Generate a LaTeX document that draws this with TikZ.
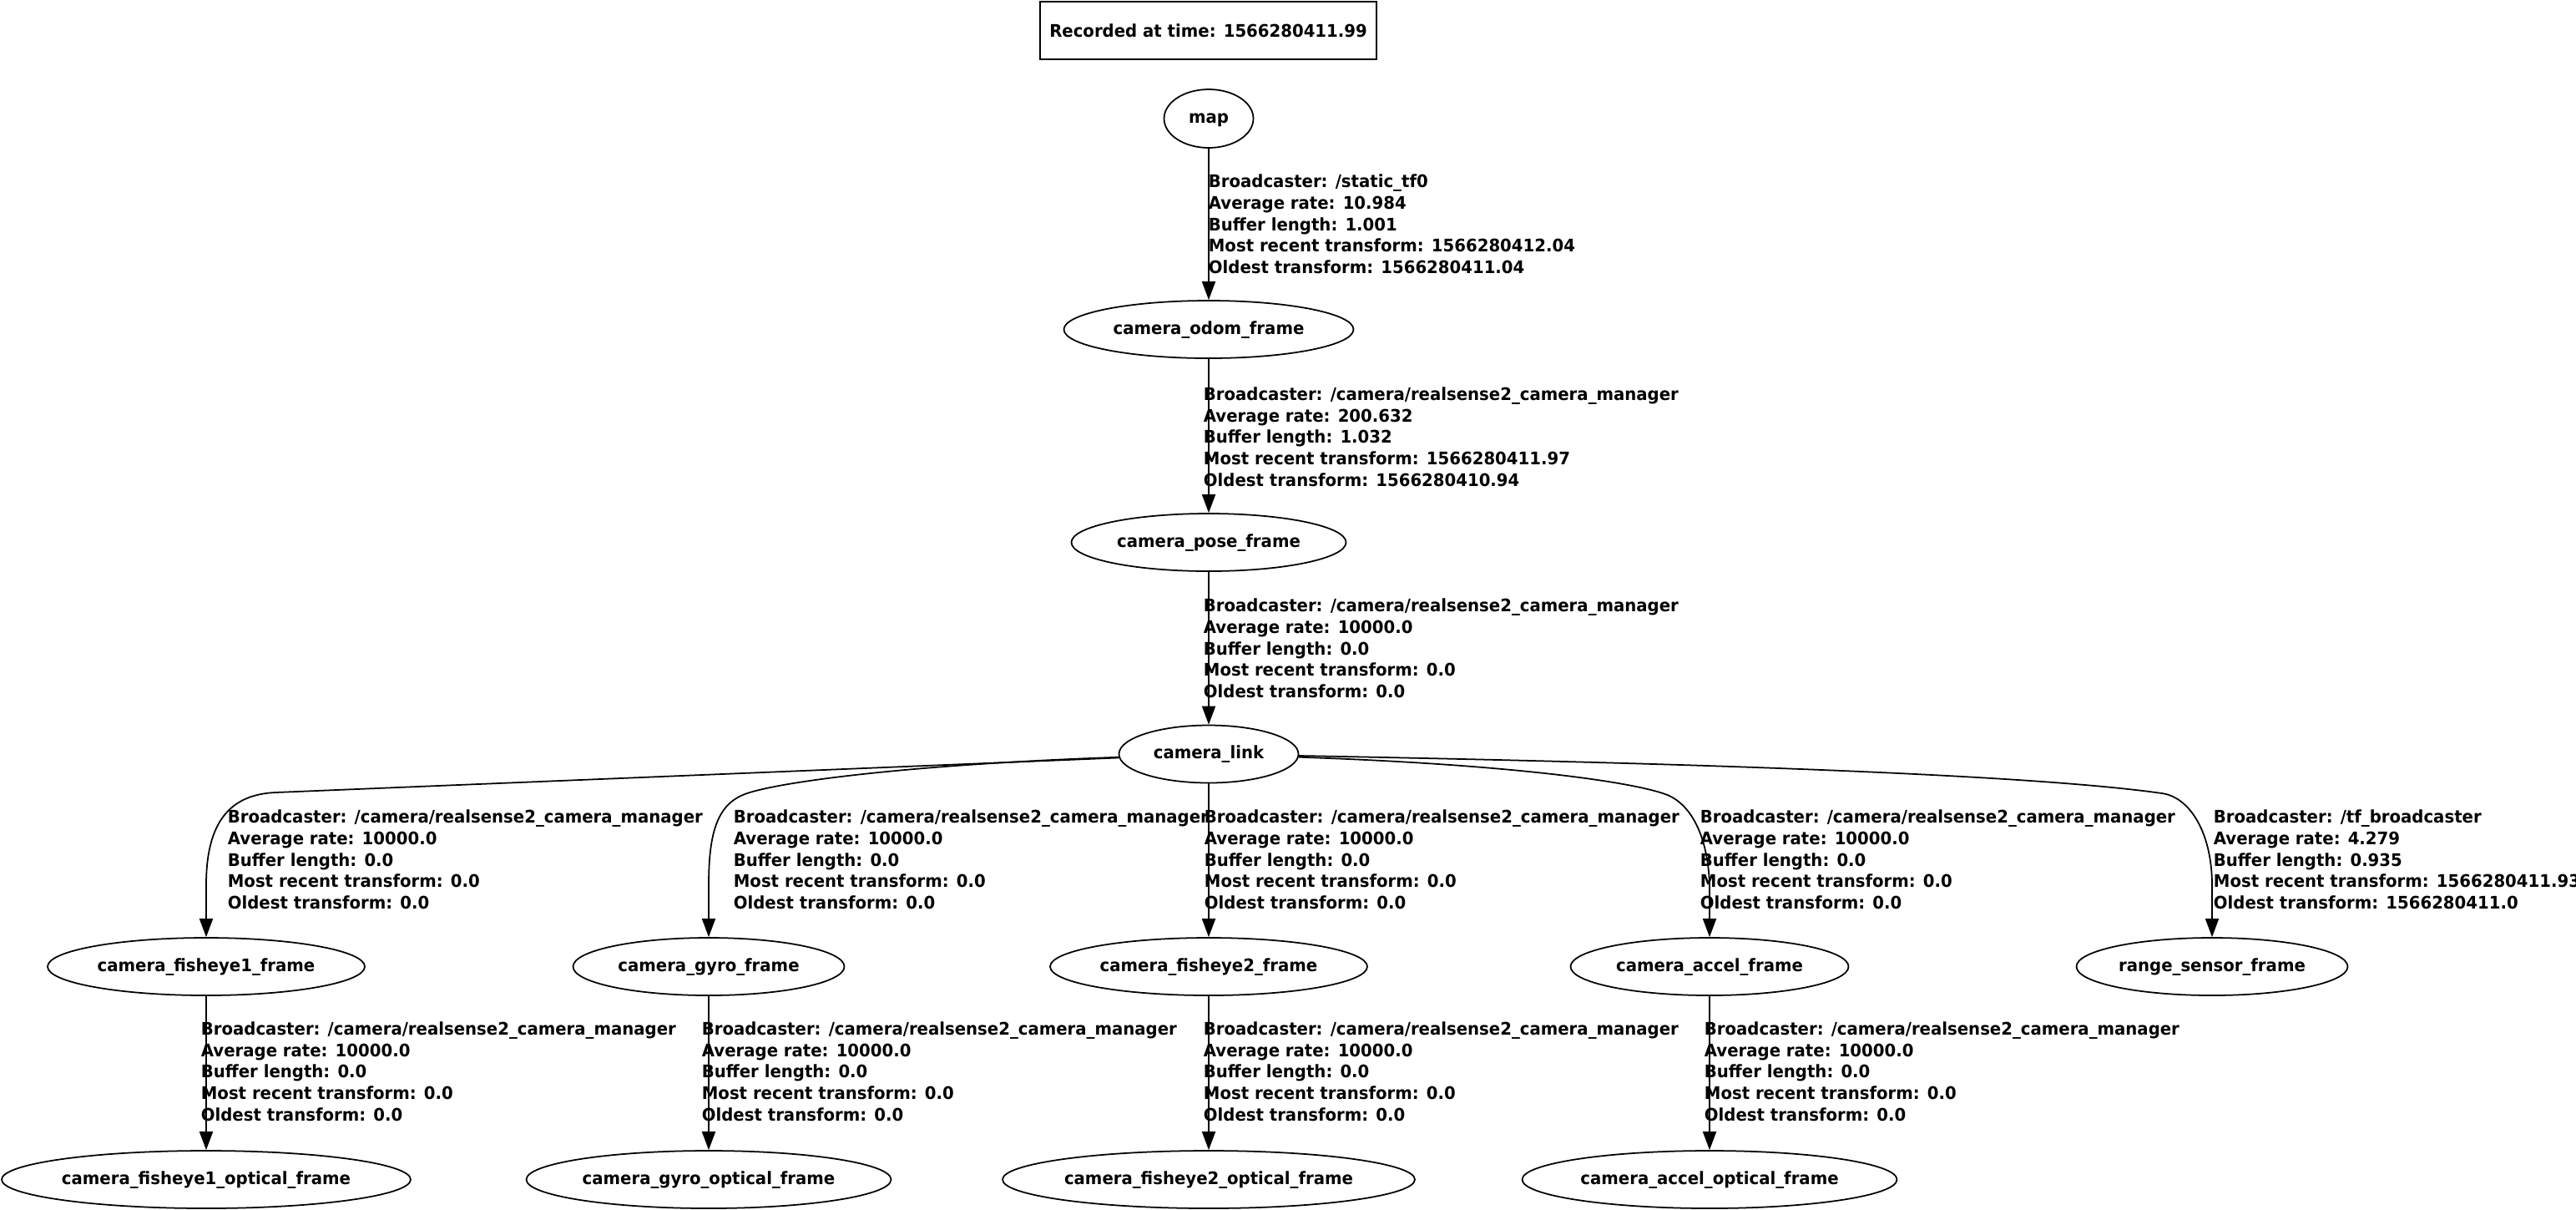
\documentclass[tikz,border=0pt]{standalone}
\usepackage{fontspec}
\setmainfont{DejaVu Sans}[FakeStretch=0.95]
\usetikzlibrary{arrows.meta,shapes.geometric}

\begin{document}
\begin{tikzpicture}[>={Triangle[length=2.2mm,width=1.6mm]}, line width=0.5pt,
  fr/.style={draw, ellipse, inner xsep=-2cm, inner ysep=0pt, minimum height=0.69cm,
    minimum width=#1, text height=4.5pt, text depth=1.2pt,
    font=\bfseries\fontsize{5.9}{7.3}\selectfont},
  lbl/.style={anchor=west, align=left, inner sep=0pt, font=\bfseries\fontsize{5.9}{7.3}\selectfont},
  stamp/.style={draw, inner sep=0pt, minimum width=4.03cm, minimum height=0.69cm,
    font=\bfseries\fontsize{5.9}{7.3}\selectfont}]
\useasboundingbox (0,0) rectangle (30.86,-14.48);
\node[stamp] (rec) at (14.475,-0.365) {Recorded at time: 1566280411.99};
% frames
\node[fr=1.07cm, minimum height=0.70cm] (map) at (14.48,-1.42) {map};
\node[fr=3.47cm] (odom) at (14.48,-3.945) {camera\_odom\_frame};
\node[fr=3.29cm] (pose) at (14.48,-6.495) {camera\_pose\_frame};
\node[fr=2.15cm] (link) at (14.48,-9.03) {camera\_link};
\node[fr=3.80cm] (fe1) at (2.47,-11.575) {camera\_fisheye1\_frame};
\node[fr=3.25cm] (gyro) at (8.49,-11.575) {camera\_gyro\_frame};
\node[fr=3.80cm] (fe2) at (14.48,-11.575) {camera\_fisheye2\_frame};
\node[fr=3.33cm] (accel) at (20.48,-11.575) {camera\_accel\_frame};
\node[fr=3.25cm] (range) at (26.50,-11.575) {range\_sensor\_frame};
\node[fr=4.90cm] (fe1o) at (2.47,-14.125) {camera\_fisheye1\_optical\_frame};
\node[fr=4.37cm] (gyroo) at (8.49,-14.125) {camera\_gyro\_optical\_frame};
\node[fr=4.94cm] (fe2o) at (14.48,-14.125) {camera\_fisheye2\_optical\_frame};
\node[fr=4.49cm] (accelo) at (20.48,-14.125) {camera\_accel\_optical\_frame};
% transforms
\draw[->] (map) -- (odom);
\draw[->] (odom) -- (pose);
\draw[->] (pose) -- (link);
\draw[->] (link) -- (3.30,-9.49) .. controls (2.75,-9.514) and (2.47,-9.85) .. (2.47,-10.6) -- (fe1);
\draw[->] (link) .. controls (11.00,-9.15) and (9.40,-9.35) .. (8.95,-9.50)
  .. controls (8.60,-9.617) and (8.49,-9.95) .. (8.49,-10.6) -- (gyro);
\draw[->] (link) -- (fe2);
\draw[->] (link) .. controls (18.00,-9.15) and (19.50,-9.35) .. (19.95,-9.51)
  .. controls (20.25,-9.617) and (20.46,-10.0) .. (20.48,-10.6) -- (accel);
\draw[->] (link) .. controls (21.00,-9.15) and (24.50,-9.30) .. (25.90,-9.50)
  .. controls (26.25,-9.55) and (26.50,-10.0) .. (26.50,-10.6) -- (range);
\draw[->] (fe1) -- (fe1o);
\draw[->] (gyro) -- (gyroo);
\draw[->] (fe2) -- (fe2o);
\draw[->] (accel) -- (accelo);
% edge labels
\node[lbl] (l1) at (14.47,-2.685) {Broadcaster: /static\_tf0\\Average rate: 10.984\\Buffer length: 1.001\\Most recent transform: 1566280412.04\\Oldest transform: 1566280411.04};
\node[lbl] (l2) at (14.41,-5.23) {Broadcaster: /camera/realsense2\_camera\_manager\\Average rate: 200.632\\Buffer length: 1.032\\Most recent transform: 1566280411.97\\Oldest transform: 1566280410.94};
\node[lbl] (l3) at (14.41,-7.765) {Broadcaster: /camera/realsense2\_camera\_manager\\Average rate: 10000.0\\Buffer length: 0.0\\Most recent transform: 0.0\\Oldest transform: 0.0};
\node[lbl] (l4) at (2.72,-10.295) {Broadcaster: /camera/realsense2\_camera\_manager\\Average rate: 10000.0\\Buffer length: 0.0\\Most recent transform: 0.0\\Oldest transform: 0.0};
\node[lbl] (l5) at (8.78,-10.295) {Broadcaster: /camera/realsense2\_camera\_manager\\Average rate: 10000.0\\Buffer length: 0.0\\Most recent transform: 0.0\\Oldest transform: 0.0};
\node[lbl] (l6) at (14.42,-10.295) {Broadcaster: /camera/realsense2\_camera\_manager\\Average rate: 10000.0\\Buffer length: 0.0\\Most recent transform: 0.0\\Oldest transform: 0.0};
\node[lbl] (l7) at (20.36,-10.295) {Broadcaster: /camera/realsense2\_camera\_manager\\Average rate: 10000.0\\Buffer length: 0.0\\Most recent transform: 0.0\\Oldest transform: 0.0};
\node[lbl] (l8) at (26.51,-10.295) {Broadcaster: /tf\_broadcaster\\Average rate: 4.279\\Buffer length: 0.935\\Most recent transform: 1566280411.93\\Oldest transform: 1566280411.0};
\node[lbl] (l9) at (2.40,-12.83) {Broadcaster: /camera/realsense2\_camera\_manager\\Average rate: 10000.0\\Buffer length: 0.0\\Most recent transform: 0.0\\Oldest transform: 0.0};
\node[lbl] (l10) at (8.40,-12.83) {Broadcaster: /camera/realsense2\_camera\_manager\\Average rate: 10000.0\\Buffer length: 0.0\\Most recent transform: 0.0\\Oldest transform: 0.0};
\node[lbl] (l11) at (14.41,-12.83) {Broadcaster: /camera/realsense2\_camera\_manager\\Average rate: 10000.0\\Buffer length: 0.0\\Most recent transform: 0.0\\Oldest transform: 0.0};
\node[lbl] (l12) at (20.41,-12.83) {Broadcaster: /camera/realsense2\_camera\_manager\\Average rate: 10000.0\\Buffer length: 0.0\\Most recent transform: 0.0\\Oldest transform: 0.0};
\end{tikzpicture}
\end{document}
